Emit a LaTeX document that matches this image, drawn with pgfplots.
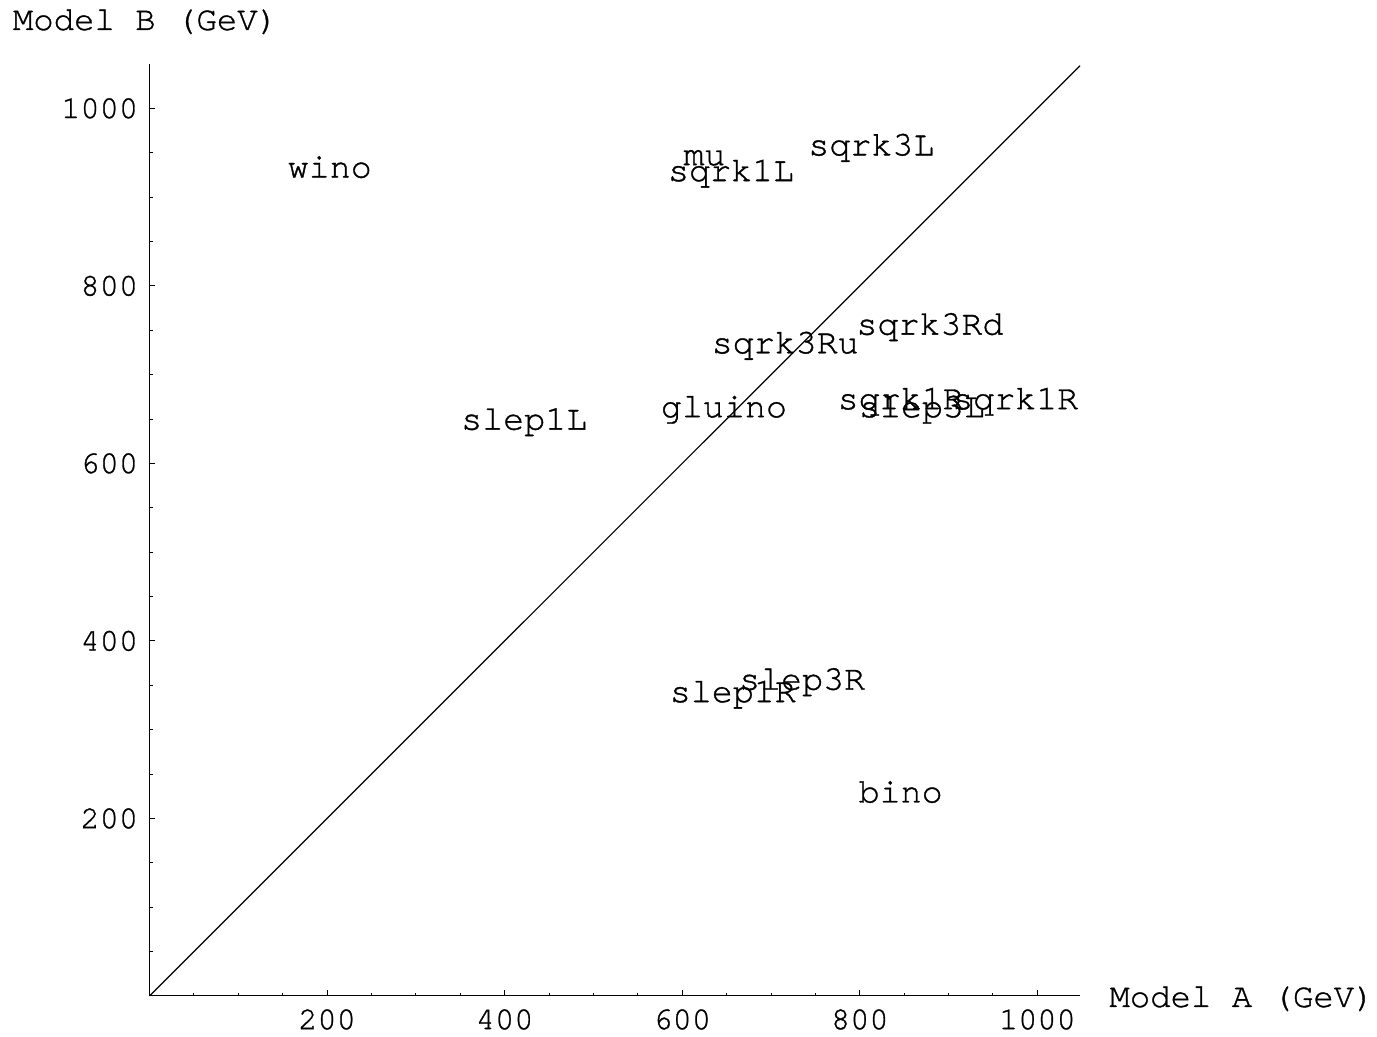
\documentclass[border=0pt]{standalone}
\usepackage{fontspec}
\setmainfont{TeX Gyre Cursor}[FakeBold=1]
\usepackage{pgfplots}
\usepackage{pgfplotstable}
\pgfplotsset{compat=1.18}
\pgfplotstableread{
x y label
203 935 wino
625 949 mu
655 931 sqrk1L
813 960 sqrk3L
879 758 sqrk3Rd
716 737 sqrk3Ru
647 665 gluino
422 651 slep1L
846 674 sqrk1R
975 674 sqrk1R
870 665 slep3L
735 358 slep3R
657 344 slep1R
846 231 bino
}\labels
\begin{document}
\begin{tikzpicture}
\path (-74.75pt,-20.5pt) rectangle (613.75pt,498pt);
\begin{axis}[
  scale only axis, width=465.25pt, height=466pt,
  xmin=0, xmax=1048, ymin=0, ymax=1050,
  axis x line=bottom, axis y line=left,
  axis line style={-, line width=0.5pt},
  xtick={200,400,...,1000}, ytick={200,400,...,1000},
  minor xtick={50,100,...,1000}, minor ytick={50,100,...,1000},
  tick align=inside,
  major tick length=3pt, minor tick length=1.7pt,
  tick style={black, line width=0.5pt},
  /pgf/number format/assume math mode=true,
  /pgf/number format/1000 sep={},
  xticklabel style={font=\fontsize{16}{16}\selectfont, anchor=center, inner sep=0pt, yshift=-11.75pt},
  yticklabel style={font=\fontsize{16}{16}\selectfont, anchor=east, inner sep=0pt, xshift=-5.5pt},
  xlabel={Model A (GeV)},
  xlabel style={font=\fontsize{17}{17}\selectfont, at={(axis description cs:1,0)}, anchor=base west, inner sep=0pt, xshift=14.5pt, yshift=-5.5pt},
  ylabel={Model B (GeV)},
  ylabel style={font=\fontsize{17}{17}\selectfont, rotate=-90, at={(axis description cs:0,1)}, anchor=base west, inner sep=0pt, xshift=-68.5pt, yshift=17pt},
  clip=false,
]
\addplot[black, line width=0.6pt] coordinates {(0,0) (1048,1048)};
\addplot[draw=none, mark=none, nodes near coords, point meta=explicit symbolic,
  nodes near coords style={anchor=base, inner sep=0pt, yshift=-5.75pt, font=\fontsize{17.5}{17.5}\selectfont, text=black}]
  table[x=x, y=y, meta=label] {\labels};
\end{axis}
\end{tikzpicture}
\end{document}
